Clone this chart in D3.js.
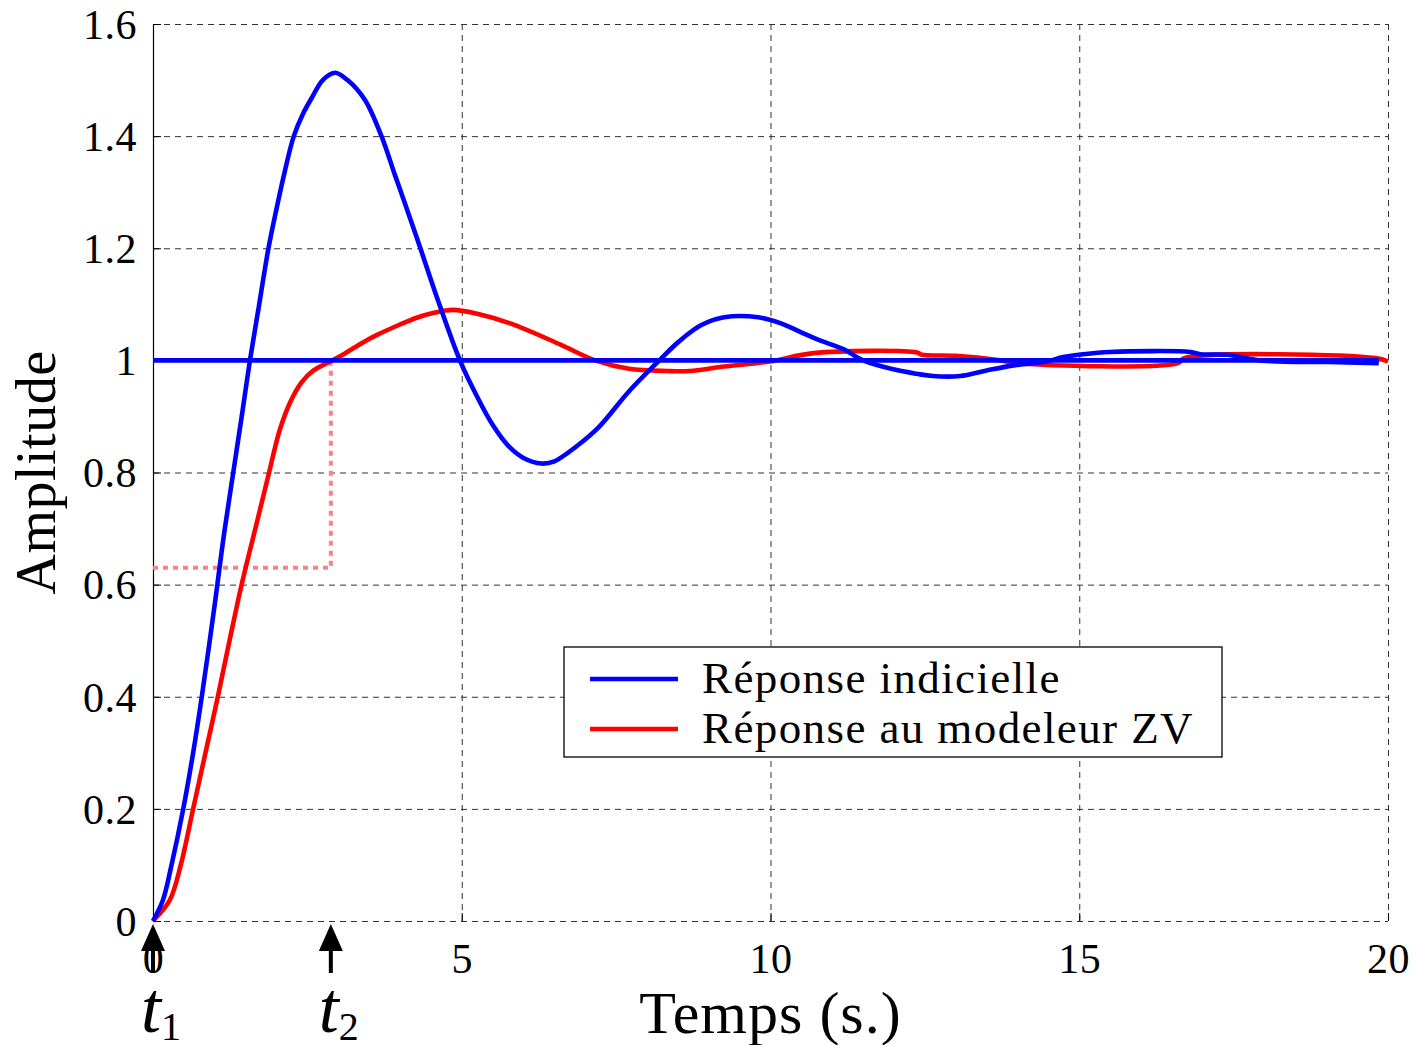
<!DOCTYPE html>
<html>
<head>
<meta charset="utf-8">
<script src="https://cdn.jsdelivr.net/npm/d3@7"></script>
<style>
  body { margin: 0; background: #fff; }
  text { font-family: "Liberation Serif", "Times New Roman", serif; fill: #000; }
</style>
</head>
<body>
<div id="chart"></div>
<script>
// ticks
const xTicks = [0, 5, 10, 15, 20];
const yTicks = [0, 0.2, 0.4, 0.6, 0.8, 1, 1.2, 1.4, 1.6];
const yTickLabels = ["0", "0.2", "0.4", "0.6", "0.8", "1", "1.2", "1.4", "1.6"];

// step response (blue)
const blueT = [0, 0.16, 0.3, 0.49, 0.65, 0.79, 1.01, 1.15, 1.3, 1.45, 1.57, 1.72, 1.87, 2.0, 2.13, 2.28, 2.43, 2.57, 2.75, 2.95, 3.15, 3.43, 3.7, 3.92, 4.08, 4.33, 4.59, 4.97, 5.25, 5.5, 5.75, 6.0, 6.29, 6.5, 6.85, 7.22, 7.71, 8.2, 8.51, 8.88, 9.25, 9.8, 10.17, 10.48, 10.79, 11.18, 11.5, 11.99, 12.37, 12.63, 13.07, 13.5, 13.99, 14.47, 14.74, 15.06, 15.5, 16.8, 16.96, 17.4, 17.97, 19.03, 19.85];
const blueV = [0, 0.037, 0.1, 0.2, 0.3, 0.4, 0.573, 0.69, 0.8, 0.91, 1.0, 1.1, 1.2, 1.27, 1.335, 1.4, 1.44, 1.468, 1.5, 1.513, 1.5, 1.465, 1.4, 1.33, 1.28, 1.2, 1.115, 1.0, 0.935, 0.885, 0.848, 0.826, 0.816, 0.82, 0.846, 0.881, 0.945, 1.0, 1.033, 1.063, 1.077, 1.077, 1.066, 1.051, 1.036, 1.02, 1.0, 0.984, 0.976, 0.972, 0.972, 0.982, 0.992, 0.998, 1.006, 1.011, 1.015, 1.015, 1.011, 1.01, 0.9995, 0.997, 0.995];

// ZV shaper response (red)
const redT = [0, 0.27, 0.45, 0.65, 0.85, 1.05, 1.22, 1.38, 1.5, 1.68, 1.88, 2.05, 2.22, 2.4, 2.6, 2.87, 3.1, 3.4, 3.62, 4.0, 4.27, 4.55, 4.86, 5.25, 5.86, 6.6, 7.16, 7.71, 8.33, 8.69, 9.25, 9.99, 10.7, 12.37, 12.45, 13.0, 13.72, 14.0, 16.6, 16.7, 19.8, 20];
const redV = [0, 0.037, 0.1, 0.2, 0.3, 0.4, 0.49, 0.573, 0.63, 0.71, 0.8, 0.875, 0.925, 0.96, 0.982, 0.998, 1.012, 1.032, 1.045, 1.064, 1.076, 1.085, 1.09, 1.083, 1.063, 1.028, 1.0, 0.985, 0.981, 0.981, 0.989, 0.998, 1.013, 1.014, 1.01, 1.008, 1.0, 0.995, 0.995, 1.004, 1.004, 0.998];

// setpoint line and the t1 / t2 markers
const refT = [0, 19.85];
const refV = [1, 1];
const markerNames = ["1", "2"];
const markerT = [0, 2.88];
const markLevel = 0.63;

const legendNames = ["Réponse indicielle", "Réponse au modeleur ZV"];
const legendColors = ["#0000ff", "#ff0000"];

let W = 1416, H = 1045;
let margin = {top: 24, right: 28, bottom: 124, left: 153},
    width = W - margin.left - margin.right,
    height = H - margin.top - margin.bottom;

let svg = d3.select("#chart").append("svg")
    .attr("width", W).attr("height", H);
let g = svg.append("g")
    .attr("transform", "translate(" + margin.left + "," + margin.top + ")");

let x = d3.scaleLinear().domain([0, 20]).range([0, width]);
let y = d3.scaleLinear().domain([0, 1.6]).range([height, 0]);

// GRID //
let yGrid = g.append("g")
    .call(d3.axisLeft(y).tickValues(yTicks).tickSize(-width).tickFormat(""));
yGrid.select(".domain").remove();
yGrid.selectAll("line").attr("stroke", "#333").attr("stroke-dasharray", "6,5");

let xGrid = g.append("g")
    .attr("transform", "translate(0," + height + ")")
    .call(d3.axisBottom(x).tickValues(xTicks.slice(1)).tickSize(-height).tickFormat(""));
xGrid.select(".domain").remove();
xGrid.selectAll("line").attr("stroke", "#333").attr("stroke-dasharray", "6,5");

// AXES //
let yAxis = g.append("g")
    .call(d3.axisLeft(y).tickValues(yTicks).tickSize(-8).tickPadding(16)
        .tickFormat((d, i) => yTickLabels[i]));
yAxis.select(".domain").attr("stroke", "#000").attr("stroke-width", 1.2);
yAxis.selectAll("text")
    .style("font-size", "42px")
    .style("letter-spacing", "0.5px")
    .attr("dy", "0.34em")
    .style("font-family", "'Liberation Serif', serif");

let xAxis = g.append("g")
    .attr("transform", "translate(0," + height + ")")
    .call(d3.axisBottom(x).tickValues(xTicks).tickSize(-8).tickPadding(22));
xAxis.select(".domain").remove();
xAxis.selectAll("text")
    .style("font-size", "42px")
    .style("letter-spacing", "0.5px")
    .style("font-family", "'Liberation Serif', serif");

// axis titles
svg.append("text")
    .attr("x", margin.left + x(10))
    .attr("y", 1033)
    .attr("text-anchor", "middle")
    .style("font-size", "60px")
    .style("letter-spacing", "1px")
    .text("Temps (s.)");

svg.append("text")
    .attr("transform", "translate(55," + (margin.top + y(0.8)) + ") rotate(-90)")
    .attr("text-anchor", "middle")
    .style("font-size", "56px")
    .style("letter-spacing", "0.5px")
    .text("Amplitude");

// CURVES //
let line = d3.line()
    .x(d => x(d[0]))
    .y(d => y(d[1]))
    .curve(d3.curveCatmullRom.alpha(0.5));

let straight = d3.line().x(d => x(d[0])).y(d => y(d[1]));

// dotted guide for t2
let guide = [[0, markLevel], [markerT[1], markLevel], [markerT[1], 1]];
g.append("path")
    .attr("d", straight(guide))
    .attr("fill", "none")
    .attr("stroke", "#ff8080")
    .attr("stroke-width", 4)
    .attr("stroke-dasharray", "5,5");

g.append("path")
    .attr("d", line(redT.map((t, i) => [t, redV[i]])))
    .attr("fill", "none").attr("stroke", "#ff0000").attr("stroke-width", 4.6);

g.append("path")
    .attr("d", straight(refT.map((t, i) => [t, refV[i]])))
    .attr("fill", "none").attr("stroke", "#0000ff").attr("stroke-width", 4.6);

g.append("path")
    .attr("d", line(blueT.map((t, i) => [t, blueV[i]])))
    .attr("fill", "none").attr("stroke", "#0000ff").attr("stroke-width", 4.6);

// LEGEND //
let leg = svg.append("g").attr("transform", "translate(564,647)");
leg.append("rect")
    .attr("width", 658).attr("height", 110)
    .attr("fill", "#fff").attr("stroke", "#000").attr("stroke-width", 1.3);
legendNames.forEach(function(name, i) {
    leg.append("line")
        .attr("x1", 26).attr("x2", 114)
        .attr("y1", 32 + i * 50).attr("y2", 32 + i * 50)
        .attr("stroke", legendColors[i]).attr("stroke-width", 4.6);
    leg.append("text")
        .attr("x", 138).attr("y", 46 + i * 50)
        .style("font-size", "45px")
        .style("letter-spacing", "1.4px")
        .text(name);
});

// t1 / t2 ARROWS //
markerT.forEach(function(t, i) {
    let cx = margin.left + x(t), top = margin.top + height + 3;
    svg.append("path")
        .attr("d", "M" + cx + "," + top + " L" + (cx + 12) + "," + (top + 27) +
            " L" + (cx + 2) + "," + (top + 27) + " L" + (cx + 2) + "," + (top + 49) +
            " L" + (cx - 2) + "," + (top + 49) + " L" + (cx - 2) + "," + (top + 27) +
            " L" + (cx - 12) + "," + (top + 27) + " Z")
        .attr("fill", "#000");
    let lab = svg.append("text")
        .attr("x", cx - 12).attr("y", 1032)
        .style("font-size", "72px")
        .style("font-style", "italic")
        .text("t");
    lab.append("tspan")
        .attr("dy", 8)
        .style("font-size", "40px")
        .style("font-style", "normal")
        .text(markerNames[i]);
});
</script>
</body>
</html>
